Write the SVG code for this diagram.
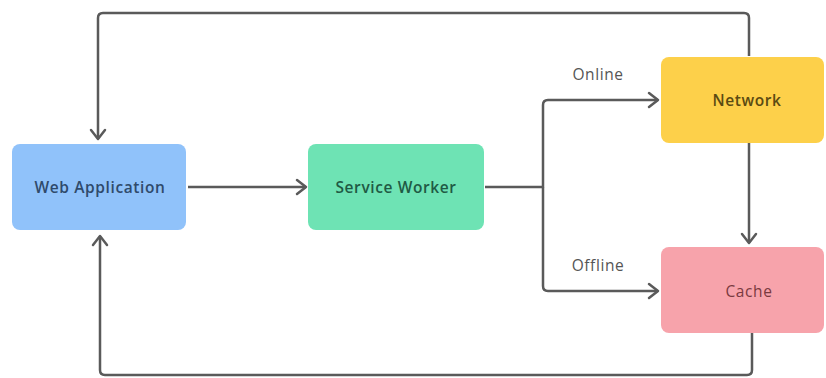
<svg xmlns="http://www.w3.org/2000/svg" width="826" height="378" viewBox="0 0 826 378">
<style>
.node text{font-family:"Open Sans","Noto Sans",sans-serif;font-size:15.5px;font-weight:600;letter-spacing:0.6px;text-anchor:middle;dominant-baseline:central}
.node text.light{font-weight:400}
.edge{fill:none;stroke:#5a5a5a;stroke-width:2.5;stroke-linejoin:round;marker-end:url(#arr)}
.lbl{font-family:"Open Sans","Noto Sans",sans-serif;font-size:15.5px;letter-spacing:0.6px;fill:#555;text-anchor:middle;dominant-baseline:central}
</style>
<defs>
<marker id="arr" markerUnits="userSpaceOnUse" markerWidth="14" markerHeight="18" viewBox="0 0 14 18" refX="12" refY="9" orient="auto">
<path d="M3,2 L12,9 L3,16" fill="none" stroke="#5a5a5a" stroke-width="2.5" stroke-linecap="round" stroke-linejoin="round"/>
</marker>
</defs>
<rect width="826" height="378" fill="#ffffff"/>
<g id="connectors">
<path class="edge" d="M188,187 H306"/>
<path class="edge" d="M485,187 H543 V105 Q543,100 548,100 H658"/>
<path class="edge" d="M543,187 V286 Q543,291 548,291 H658"/>
<path class="edge" d="M749,143 V243"/>
<path class="edge" d="M749,56 V18 Q749,13 744,13 H103 Q98,13 98,18 V139"/>
<path class="edge" d="M752,333 V370 Q752,375 747,375 H105 Q100,375 100,370 V236"/>
<text class="lbl" x="598" y="74">Online</text>
<text class="lbl" x="598" y="265">Offline</text>
</g>
<g id="web-application" class="node">
<rect x="12" y="144" width="174" height="86" rx="8" fill="#90c2fa"/>
<text x="100" y="187" fill="#2f4a6b">Web Application</text>
</g>
<g id="service-worker" class="node">
<rect x="308" y="144" width="176" height="86" rx="8" fill="#6ee3b4"/>
<text x="396" y="187" fill="#1f5a44">Service Worker</text>
</g>
<g id="network" class="node">
<rect x="661" y="57" width="163" height="86" rx="8" fill="#fdd04a"/>
<text x="747" y="100" fill="#5a4a12">Network</text>
</g>
<g id="cache" class="node">
<rect x="661" y="247" width="163" height="86" rx="8" fill="#f7a3ab"/>
<text class="light" x="749" y="291" fill="#7a3a40">Cache</text>
</g>
</svg>
